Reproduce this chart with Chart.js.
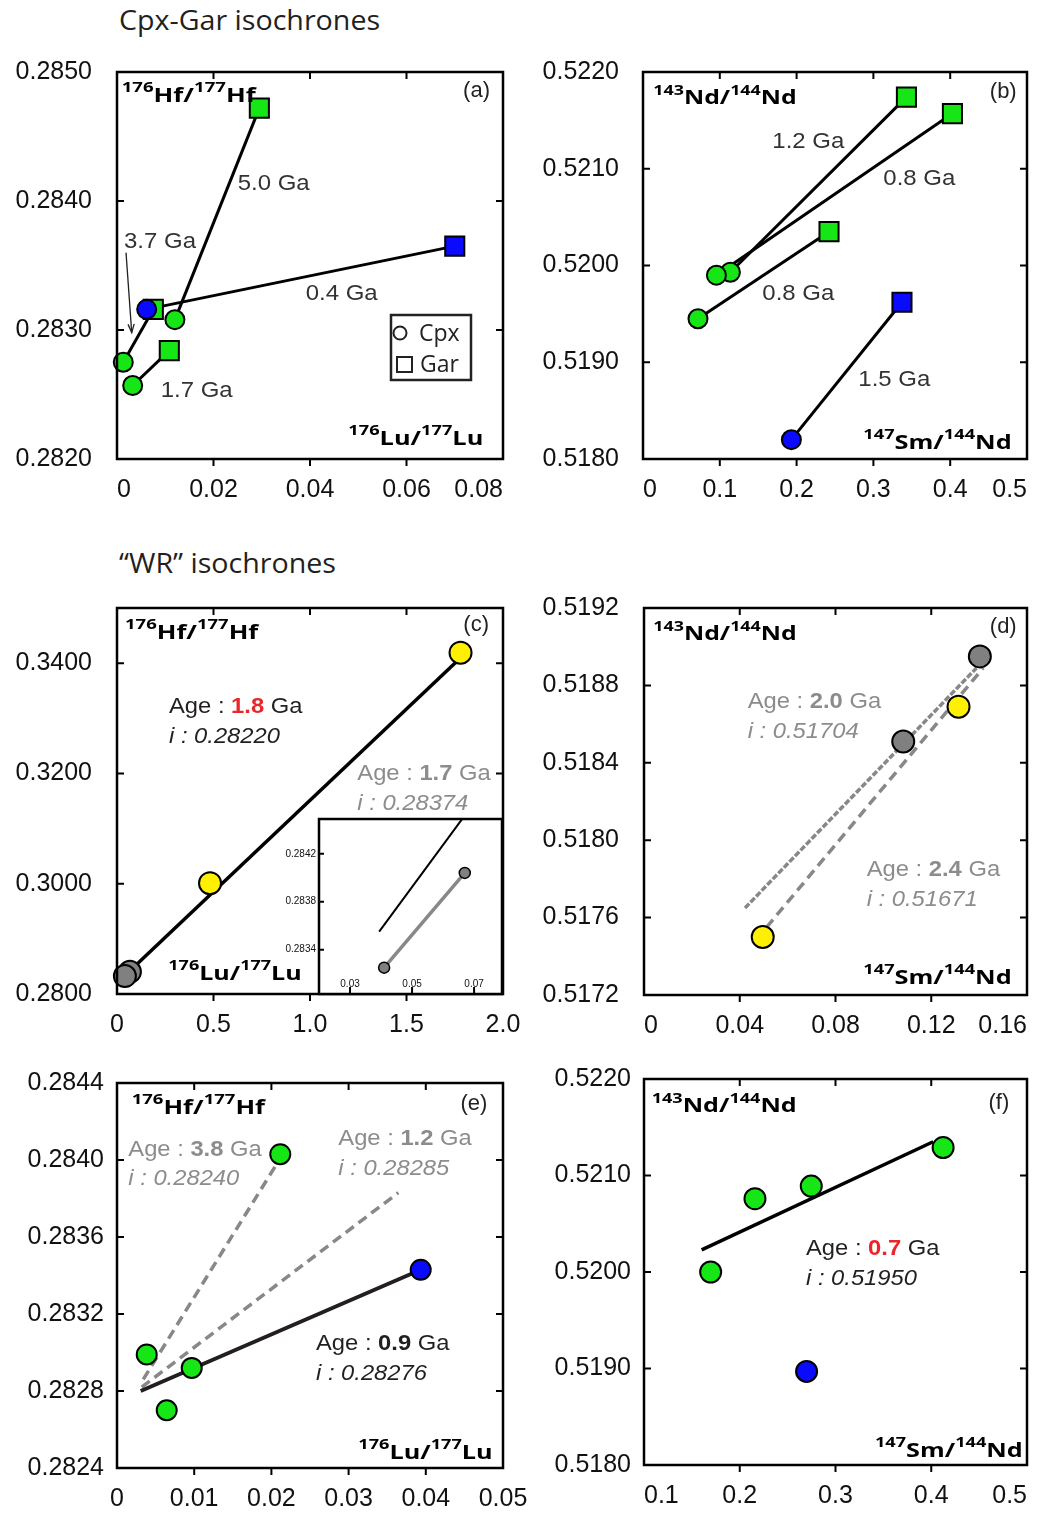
<!DOCTYPE html>
<html>
<head>
<meta charset="utf-8">
<script src="https://cdn.jsdelivr.net/npm/chart.js@4.4.0/dist/chart.umd.min.js"></script>
<style>
  body { margin: 0; background: #fff; }
  #fig { position: relative; width: 1047px; height: 1513px; overflow: hidden; background: #fff; }
  #fig canvas { position: absolute; }
  .title { position: absolute; font-family: "Open Sans"; font-size: 27px; line-height: 27px; color: #231f20; white-space: nowrap; transform-origin: 0 0; transform: scaleX(1.06); }
</style>
</head>
<body>
<div id="fig">
  <div class="title" style="left:119px; top:6px;">Cpx-Gar isochrones</div>
  <div class="title" style="left:119px; top:549px;">“WR” isochrones</div>
</div>
<script>
// values, [x, y]

// (a) Lu-Hf, Cpx-Gar pairs
const aCpxGreen = [[0.0120, 0.28308], [0.0013, 0.28275], [0.00325, 0.28257]];
const aCpxBlue = [[0.00615, 0.28316]];
const aGarGreen = [[0.0295, 0.28472], [0.00753, 0.28316], [0.01084, 0.28284]];
const aGarBlue = [[0.0700, 0.28365]];
const aXTicks = ['0', '0.02', '0.04', '0.06', '0.08'];
const aYTicks = ['0.2820', '0.2830', '0.2840', '0.2850'];

// (b) Sm-Nd, Cpx-Gar pairs
const bCpxGreen = [[0.1138, 0.51993], [0.0956, 0.51990], [0.0716, 0.51945]];
const bCpxBlue = [[0.1932, 0.51820]];
const bGarGreen = [[0.343, 0.52174], [0.4029, 0.52157], [0.2422, 0.52035]];
const bGarBlue = [[0.3372, 0.51962]];
const bXTicks = ['0', '0.1', '0.2', '0.3', '0.4', '0.5'];
const bYTicks = ['0.5180', '0.5190', '0.5200', '0.5210', '0.5220'];

// (c) "WR" Lu-Hf
const cYellow = [[1.78, 0.3419], [0.482, 0.3001]];
const cGray = [[0.067, 0.28404], [0.041, 0.28325]];
const cFit18 = [[0.10, 0.2853], [1.76, 0.3403]];
const cXTicks = ['0', '0.5', '1.0', '1.5', '2.0'];
const cYTicks = ['0.2800', '0.3000', '0.3200', '0.3400'];
const cYRange = [0.28, 0.35];
// (c) inset
const iFit18 = [[0.0394, 0.28355], [0.0690, 0.28459]];
const iXTicks = ['0.03', '0.05', '0.07'];
const iYTicks = ['0.2834', '0.2838', '0.2842'];
const iXRange = [0.02, 0.079];
const iYRange = [0.28303, 0.28449];

// (d) "WR" Sm-Nd
const dGray = [[0.1403, 0.51895], [0.1083, 0.51851]];
const dYellow = [[0.1314, 0.51869], [0.0496, 0.51750]];
const dFit20 = [[0.0422, 0.51765], [0.1389, 0.51889]];
const dFit24 = [[0.0512, 0.51755], [0.1417, 0.51889]];
const dXTicks = ['0', '0.04', '0.08', '0.12', '0.16'];
const dYTicks = ['0.5172', '0.5176', '0.5180', '0.5184', '0.5188', '0.5192'];

// (e) Lu-Hf
const eGreen = [[0.00385, 0.28299], [0.00968, 0.28292], [0.00644, 0.28270], [0.02115, 0.28403]];
const eBlue = [[0.03934, 0.28343]];
const eFit09 = [[0.00307, 0.28280], [0.03934, 0.28343]];
const eFit38 = [[0.0034, 0.28286], [0.0207, 0.28398]];
const eFit12 = [[0.0032, 0.28282], [0.03644, 0.28383]];
const eXTicks = ['0', '0.01', '0.02', '0.03', '0.04', '0.05'];
const eYTicks = ['0.2824', '0.2828', '0.2832', '0.2836', '0.2840', '0.2844'];

// (f) Sm-Nd
const fGreen = [[0.1696, 0.52000], [0.2159, 0.52076], [0.2747, 0.52089], [0.4124, 0.52129]];
const fBlue = [[0.2698, 0.51897]];
const fFit07 = [[0.1602, 0.52023], [0.402, 0.52135]];
const fXTicks = ['0.1', '0.2', '0.3', '0.4', '0.5'];
const fYTicks = ['0.5180', '0.5190', '0.5200', '0.5210', '0.5220'];

const GREEN = '#16e616', BLUE = '#0a0aff', YELLOW = '#fff000', GRAY = '#808080';
const RED = '#e8262b', DARK = '#231f20', TGRAY = '#8c8c8c', LGRAY = '#888888';

const pts = arr => arr.map(p => ({ x: p[0], y: p[1] }));

function marks(data, color, style, r, order, bw) {
  return {
    data: pts(data), showLine: false, pointStyle: style, pointRadius: r,
    pointBackgroundColor: color, pointBorderColor: '#000', pointBorderWidth: bw || 2,
    order: order, clip: false
  };
}
function seg(data, color, width, dash) {
  return {
    data: pts(data), showLine: true, pointRadius: 0, borderColor: color,
    borderWidth: width, borderDash: dash || [], order: 20, fill: false
  };
}

// text helpers
function iso(m1, e1, m2, e2) {
  return [{ t: m1, sup: 1 }, { t: e1 + '/' }, { t: m2, sup: 1 }, { t: e2 }];
}
function age(num, numColor, color) {
  return { color: color, parts: [{ t: 'Age : ' }, { t: num, bold: 1, color: numColor }, { t: ' Ga' }] };
}

function drawNote(ctx, n, ox, oy) {
  const fam = n.family || 'Liberation Sans';
  const size = n.size || 22;
  const parts = typeof n.parts === 'string' ? [{ t: n.parts }] : n.parts;
  const segs = [];
  let total = 0;
  parts.forEach(p => {
    const fs = p.sup ? size * 0.72 : size;
    const font = (n.italic ? 'italic ' : '') + ((p.bold || n.bold) ? 'bold ' : '') + fs + 'px "' + fam + '"';
    ctx.font = font;
    const w = ctx.measureText(p.t).width;
    segs.push({ p, font, w });
    total += w;
  });
  const sx = n.w ? n.w / total : (n.sx || 1);
  let x0 = n.x - ox;
  if (n.align === 'right') x0 -= total * sx;
  ctx.save();
  ctx.translate(x0, n.y - oy + size * 0.36);
  ctx.scale(sx, 1);
  ctx.textBaseline = 'alphabetic';
  ctx.textAlign = 'left';
  let cx = 0;
  segs.forEach(s => {
    ctx.font = s.font;
    ctx.fillStyle = s.p.color || n.color || '#000';
    ctx.fillText(s.p.t, cx, s.p.sup ? -size * 0.5 : 0);
    cx += s.w;
  });
  ctx.restore();
}

Chart.register({
  id: 'panelFrame',
  beforeDatasetsDraw(chart) {
    const e = chart.canvas.panelExtra;
    if (!e || !e.inset) return;
    const a = chart.chartArea, ctx = chart.ctx;
    ctx.save();
    ctx.fillStyle = '#fff';
    ctx.fillRect(a.left, a.top, a.right - a.left, a.bottom - a.top);
    ctx.restore();
  },
  afterDraw(chart) {
    const e = chart.canvas.panelExtra;
    if (!e) return;
    const ctx = chart.ctx, a = chart.chartArea;
    const xs = chart.scales.x, ys = chart.scales.y;
    ctx.save();
    ctx.strokeStyle = '#000';
    ctx.lineWidth = 2.5;
    ctx.strokeRect(a.left, a.top, a.right - a.left, a.bottom - a.top);
    ctx.lineWidth = 2;
    const tl = 7;
    ctx.beginPath();
    xs.ticks.forEach(t => {
      const px = xs.getPixelForValue(t.value);
      if (px <= a.left + 1 || px >= a.right - 1) return;
      if (e.inset) {
        ctx.moveTo(px, a.bottom); ctx.lineTo(px, a.bottom - tl);
      } else {
        ctx.moveTo(px, a.top); ctx.lineTo(px, a.top + tl);
        ctx.moveTo(px, a.bottom); ctx.lineTo(px, a.bottom + tl);
      }
    });
    ys.ticks.forEach(t => {
      const py = ys.getPixelForValue(t.value);
      if (py <= a.top + 1 || py >= a.bottom - 1) return;
      ctx.moveTo(a.left, py); ctx.lineTo(a.left + (e.inset ? 5 : tl), py);
      if (!e.inset) { ctx.moveTo(a.right, py); ctx.lineTo(a.right - tl, py); }
    });
    ctx.stroke();

    if (e.inset) {
      ctx.font = '10px "Liberation Sans"';
      ctx.fillStyle = '#111';
      ctx.textAlign = 'center';
      ctx.textBaseline = 'middle';
      xs.ticks.forEach((t, i) => {
        ctx.fillText(e.xLabels[i], xs.getPixelForValue(t.value), a.bottom - 10);
      });
    }

    (e.arrows || []).forEach(ar => {
      const x1 = xs.getPixelForValue(ar.from[0]), y1 = ys.getPixelForValue(ar.from[1]);
      const x2 = xs.getPixelForValue(ar.to[0]), y2 = ys.getPixelForValue(ar.to[1]);
      ctx.strokeStyle = '#222';
      ctx.lineWidth = 1.3;
      ctx.beginPath(); ctx.moveTo(x1, y1); ctx.lineTo(x2, y2); ctx.stroke();
      const ang = Math.atan2(y2 - y1, x2 - x1), L = 9;
      ctx.beginPath();
      ctx.moveTo(x2 - L * Math.cos(ang - 0.35), y2 - L * Math.sin(ang - 0.35));
      ctx.lineTo(x2, y2);
      ctx.lineTo(x2 - L * Math.cos(ang + 0.35), y2 - L * Math.sin(ang + 0.35));
      ctx.stroke();
    });

    if (e.legendBox) {
      const b = e.legendBox, bx = b.x - e.ox, by = b.y - e.oy;
      ctx.strokeStyle = '#222';
      ctx.lineWidth = 2.5;
      ctx.fillStyle = '#fff';
      ctx.fillRect(bx, by, b.w, b.h);
      ctx.strokeRect(bx, by, b.w, b.h);
      ctx.lineWidth = 2;
      ctx.beginPath(); ctx.arc(bx + 9, by + 18, 6.5, 0, Math.PI * 2); ctx.stroke();
      ctx.strokeRect(bx + 6, by + 42, 15, 15);
    }

    (e.notes || []).forEach(n => drawNote(ctx, n, e.ox, e.oy));
    ctx.restore();
  }
});

function noPad(s) {
  s.paddingLeft = 0; s.paddingRight = 0; s.paddingTop = 0; s.paddingBottom = 0;
}

function panel(cfg) {
  const r = cfg.rect, p = cfg.plot;
  const cv = document.createElement('canvas');
  cv.width = r.w; cv.height = r.h;
  cv.style.left = r.x + 'px'; cv.style.top = r.y + 'px';
  document.getElementById('fig').appendChild(cv);
  const xl = cfg.xTicks, yl = cfg.yTicks;
  const xr = cfg.xRange || [parseFloat(xl[0]), parseFloat(xl[xl.length - 1])];
  const yr = cfg.yRange || [parseFloat(yl[0]), parseFloat(yl[yl.length - 1])];
  cv.panelExtra = {
    ox: r.x, oy: r.y, inset: cfg.inset, xLabels: xl,
    notes: cfg.notes, arrows: cfg.arrows, legendBox: cfg.legendBox
  };
  const tickFont = { family: 'Liberation Sans', size: cfg.inset ? 10 : 25 };
  new Chart(cv, {
    type: 'scatter',
    data: { datasets: cfg.datasets },
    options: {
      responsive: false,
      animation: false,
      events: [],
      layout: {
        autoPadding: false,
        padding: { left: 0, top: p.t - r.y, right: r.x + r.w - p.r, bottom: cfg.inset ? r.y + r.h - p.b : 0 }
      },
      plugins: { legend: { display: false }, tooltip: { enabled: false } },
      scales: {
        x: {
          type: 'linear', position: 'bottom', min: xr[0], max: xr[1],
          grid: { display: false, drawTicks: false }, border: { display: false },
          afterBuildTicks: s => { s.ticks = xl.map(v => ({ value: parseFloat(v) })); },
          afterFit: s => { s.height = cfg.inset ? 0 : r.y + r.h - p.b; noPad(s); },
          ticks: {
            display: !cfg.inset, callback: (v, i) => xl[i], font: tickFont, color: '#111',
            padding: 16, maxRotation: 0, autoSkip: false, align: cfg.xAlign || 'center'
          }
        },
        y: {
          type: 'linear', position: 'left', min: yr[0], max: yr[1],
          grid: { display: false, drawTicks: false }, border: { display: false },
          afterBuildTicks: s => { s.ticks = yl.map(v => ({ value: parseFloat(v) })); },
          afterFit: s => { s.width = p.l - r.x; noPad(s); },
          ticks: {
            callback: (v, i) => yl[i], font: tickFont, color: '#111',
            padding: cfg.yPad, autoSkip: false
          }
        }
      }
    }
  });
}

const GA = { family: 'Liberation Sans', size: 22, color: '#333', w: 72 };
const ISO = { family: 'Open Sans', size: 19, bold: true, color: '#000' };
const TAG = { family: 'Liberation Sans', size: 22, color: '#222', align: 'right' };
const AGE = { family: 'Liberation Sans', size: 22, sx: 1.08 };
const note = (base, o) => Object.assign({}, base, o);

// (a)
panel({
  rect: { x: 0, y: 50, w: 530, h: 480 }, plot: { l: 117, t: 72, r: 503, b: 459 }, yPad: 25, xAlign: 'inner',
  xTicks: aXTicks, yTicks: aYTicks,
  datasets: [
    marks(aCpxBlue, BLUE, 'circle', 9.5, 2),
    marks(aGarBlue, BLUE, 'rect', 13.5, 3),
    marks(aCpxGreen, GREEN, 'circle', 9.5, 4),
    marks(aGarGreen, GREEN, 'rect', 13.5, 5),
    seg([aCpxGreen[0], aGarGreen[0]], '#000', 3),
    seg([aCpxGreen[1], aGarGreen[1]], '#000', 3),
    seg([aCpxGreen[2], aGarGreen[2]], '#000', 3),
    seg([aCpxBlue[0], aGarBlue[0]], '#000', 3)
  ],
  arrows: [{ from: [0.00187, 0.2836], to: [0.00305, 0.28298] }],
  legendBox: { x: 391, y: 315, w: 80, h: 65 },
  notes: [
    note(ISO, { x: 121.7, y: 95, w: 134, parts: iso('176', 'Hf', '177', 'Hf') }),
    note(ISO, { x: 348.3, y: 438, w: 135, parts: iso('176', 'Lu', '177', 'Lu') }),
    note(TAG, { x: 490, y: 89, parts: '(a)' }),
    note(GA, { x: 237.7, y: 182.3, parts: '5.0 Ga' }),
    note(GA, { x: 124, y: 240, parts: '3.7 Ga' }),
    note(GA, { x: 305.7, y: 291.7, parts: '0.4 Ga' }),
    note(GA, { x: 160.7, y: 389.3, parts: '1.7 Ga' }),
    { family: 'Open Sans', size: 23, color: '#222', x: 419, y: 333, parts: 'Cpx' },
    { family: 'Open Sans', size: 23, color: '#222', x: 420, y: 363.5, parts: 'Gar' }
  ]
});

// (b)
panel({
  rect: { x: 525, y: 50, w: 522, h: 480 }, plot: { l: 643, t: 72, r: 1027, b: 459 }, yPad: 24, xAlign: 'inner',
  xTicks: bXTicks, yTicks: bYTicks,
  datasets: [
    marks(bCpxBlue, BLUE, 'circle', 9.5, 2),
    marks(bGarBlue, BLUE, 'rect', 13.5, 3),
    marks(bCpxGreen, GREEN, 'circle', 9.5, 4),
    marks(bGarGreen, GREEN, 'rect', 13.5, 5),
    seg([bCpxGreen[0], bGarGreen[0]], '#000', 3),
    seg([bCpxGreen[1], bGarGreen[1]], '#000', 3),
    seg([bCpxGreen[2], bGarGreen[2]], '#000', 3),
    seg([bCpxBlue[0], bGarBlue[0]], '#000', 3)
  ],
  notes: [
    note(ISO, { x: 653.3, y: 97.5, w: 143.4, parts: iso('143', 'Nd', '144', 'Nd') }),
    note(ISO, { x: 863.3, y: 442, w: 148.4, parts: iso('147', 'Sm', '144', 'Nd') }),
    note(TAG, { x: 1016.7, y: 90, parts: '(b)' }),
    note(GA, { x: 772.3, y: 140, parts: '1.2 Ga' }),
    note(GA, { x: 883.3, y: 177.3, parts: '0.8 Ga' }),
    note(GA, { x: 762.3, y: 291.7, parts: '0.8 Ga' }),
    note(GA, { x: 858.3, y: 378.3, parts: '1.5 Ga' })
  ]
});

// (c)
panel({
  rect: { x: 0, y: 585, w: 530, h: 470 }, plot: { l: 117, t: 608, r: 503, b: 994 }, yPad: 25,
  xTicks: cXTicks, yTicks: cYTicks, yRange: cYRange,
  datasets: [
    marks(cGray, GRAY, 'circle', 11, 2),
    marks(cYellow, YELLOW, 'circle', 11, 3),
    seg(cFit18, '#000', 3.5)
  ],
  notes: [
    note(ISO, { x: 125, y: 632, w: 133.3, parts: iso('176', 'Hf', '177', 'Hf') }),
    note(ISO, { x: 168.3, y: 973, w: 133.4, parts: iso('176', 'Lu', '177', 'Lu') }),
    note(TAG, { x: 489, y: 623, parts: '(c)' }),
    note(AGE, Object.assign({ x: 169, y: 705 }, age('1.8', RED, DARK))),
    note(AGE, { x: 169, y: 735, italic: true, color: DARK, parts: 'i : 0.28220' }),
    note(AGE, Object.assign({ x: 357.3, y: 772.3 }, age('1.7', TGRAY, TGRAY))),
    note(AGE, { x: 357.3, y: 801.7, italic: true, color: TGRAY, parts: 'i : 0.28374' })
  ]
});

// (c) inset
panel({
  rect: { x: 270, y: 812, w: 238, h: 185 }, plot: { l: 319, t: 819, r: 502, b: 994 }, yPad: 3,
  inset: true, xTicks: iXTicks, yTicks: iYTicks, xRange: iXRange, yRange: iYRange,
  datasets: [
    marks(cGray, GRAY, 'circle', 5.5, 2, 1.5),
    seg(cGray, LGRAY, 3.5),
    seg(iFit18, '#000', 2)
  ]
});

// (d)
panel({
  rect: { x: 525, y: 585, w: 522, h: 470 }, plot: { l: 644, t: 608, r: 1027, b: 995 }, yPad: 25, xAlign: 'inner',
  xTicks: dXTicks, yTicks: dYTicks,
  datasets: [
    marks(dYellow, YELLOW, 'circle', 11, 2),
    marks(dGray, GRAY, 'circle', 11, 3),
    seg(dFit20, LGRAY, 3.5, [6, 2]),
    seg(dFit24, LGRAY, 3.5, [10, 6])
  ],
  notes: [
    note(ISO, { x: 653.3, y: 633.5, w: 143.4, parts: iso('143', 'Nd', '144', 'Nd') }),
    note(ISO, { x: 863.3, y: 977, w: 148.4, parts: iso('147', 'Sm', '144', 'Nd') }),
    note(TAG, { x: 1016.7, y: 625, parts: '(d)' }),
    note(AGE, Object.assign({ x: 747.7, y: 700 }, age('2.0', TGRAY, TGRAY))),
    note(AGE, { x: 747.7, y: 730, italic: true, color: TGRAY, parts: 'i : 0.51704' }),
    note(AGE, Object.assign({ x: 866.7, y: 868.3 }, age('2.4', TGRAY, TGRAY))),
    note(AGE, { x: 866.7, y: 898.3, italic: true, color: TGRAY, parts: 'i : 0.51671' })
  ]
});

// (e)
panel({
  rect: { x: 0, y: 1060, w: 530, h: 453 }, plot: { l: 117, t: 1083, r: 503, b: 1468 }, yPad: 13,
  xTicks: eXTicks, yTicks: eYTicks,
  datasets: [
    marks(eBlue, BLUE, 'circle', 10, 2),
    marks(eGreen, GREEN, 'circle', 10, 3),
    seg(eFit09, DARK, 4),
    seg(eFit38, LGRAY, 3.5, [10, 6]),
    seg(eFit12, LGRAY, 3.5, [10, 6])
  ],
  notes: [
    note(ISO, { x: 131.7, y: 1107, w: 133.3, parts: iso('176', 'Hf', '177', 'Hf') }),
    note(ISO, { x: 358.3, y: 1452, w: 134.4, parts: iso('176', 'Lu', '177', 'Lu') }),
    note(TAG, { x: 487.3, y: 1101.7, parts: '(e)' }),
    note(AGE, Object.assign({ x: 128.3, y: 1148.3 }, age('3.8', TGRAY, TGRAY))),
    note(AGE, { x: 128.3, y: 1176.7, italic: true, color: TGRAY, parts: 'i : 0.28240' }),
    note(AGE, Object.assign({ x: 338.3, y: 1136.7 }, age('1.2', TGRAY, TGRAY))),
    note(AGE, { x: 338.3, y: 1166.7, italic: true, color: TGRAY, parts: 'i : 0.28285' }),
    note(AGE, Object.assign({ x: 316, y: 1341.7 }, age('0.9', DARK, DARK))),
    note(AGE, { x: 316, y: 1371.7, italic: true, color: DARK, parts: 'i : 0.28276' })
  ]
});

// (f)
panel({
  rect: { x: 525, y: 1060, w: 522, h: 453 }, plot: { l: 644, t: 1079, r: 1027, b: 1465 }, yPad: 13, xAlign: 'inner',
  xTicks: fXTicks, yTicks: fYTicks,
  datasets: [
    marks(fBlue, BLUE, 'circle', 10.5, 2),
    marks(fGreen, GREEN, 'circle', 10.5, 3),
    seg(fFit07, '#000', 3.5)
  ],
  notes: [
    note(ISO, { x: 651.7, y: 1105.5, w: 145, parts: iso('143', 'Nd', '144', 'Nd') }),
    note(ISO, { x: 875, y: 1450, w: 147.7, parts: iso('147', 'Sm', '144', 'Nd') }),
    note(TAG, { x: 1009.3, y: 1100.7, parts: '(f)' }),
    note(AGE, Object.assign({ x: 806, y: 1246.7 }, age('0.7', RED, DARK))),
    note(AGE, { x: 806, y: 1276.7, italic: true, color: DARK, parts: 'i : 0.51950' })
  ]
});
</script>
</body>
</html>
